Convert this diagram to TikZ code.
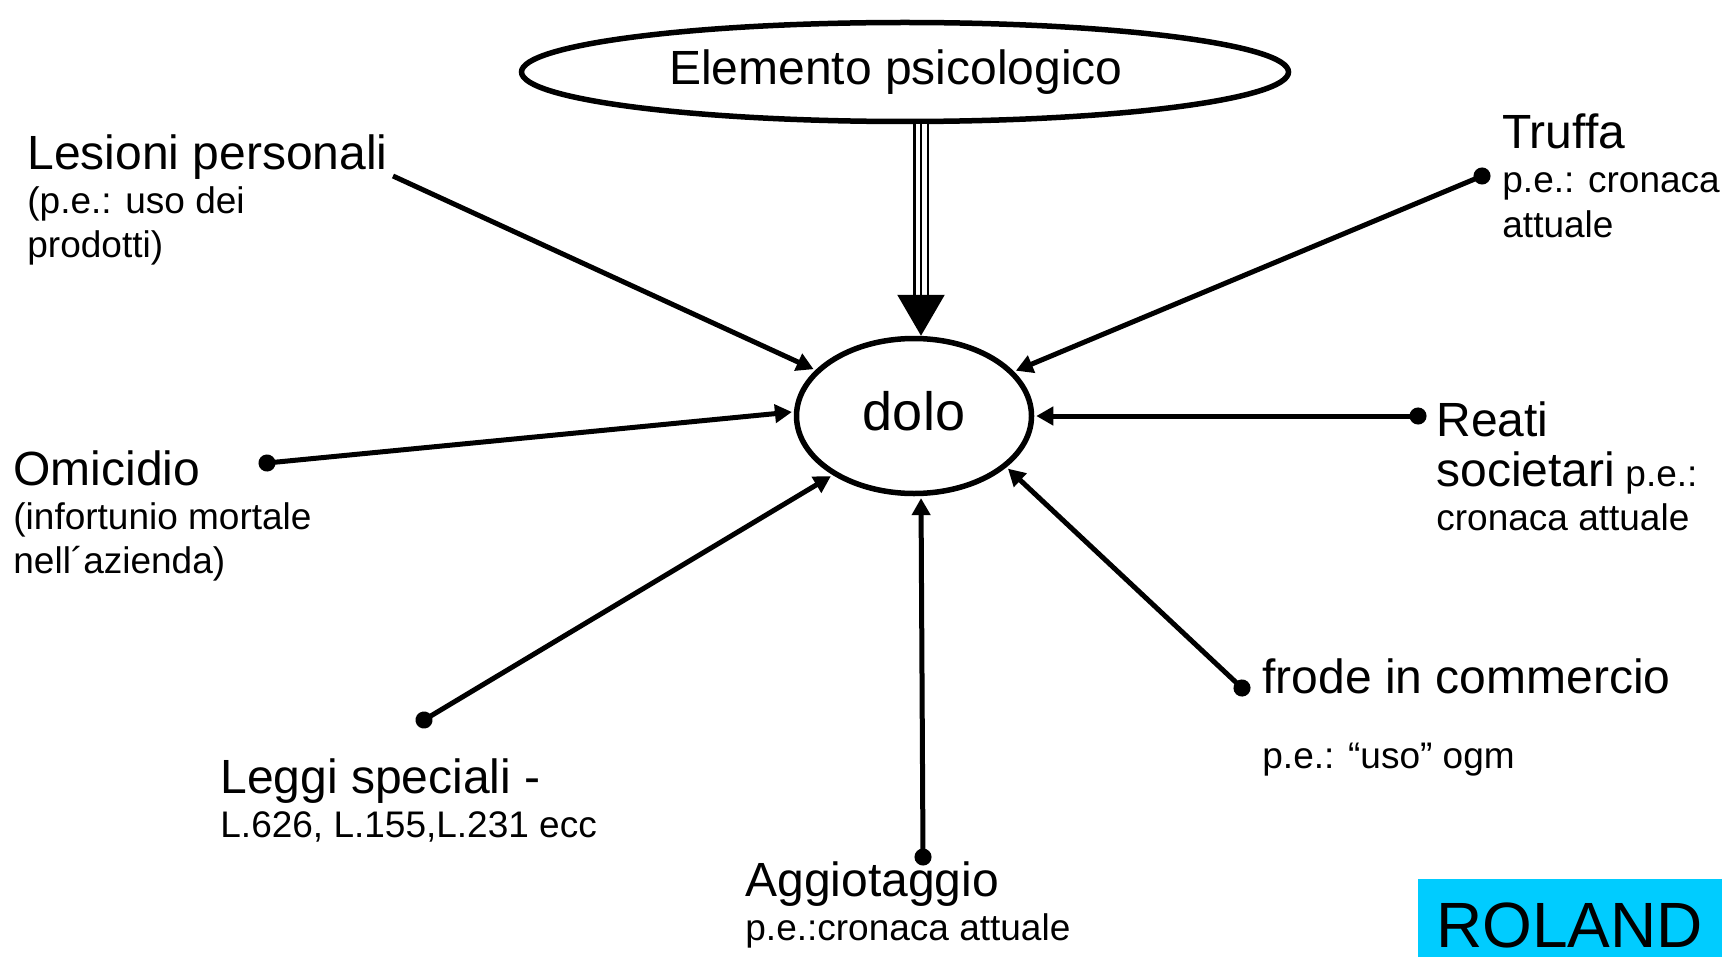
\documentclass[tikz,border=0pt]{standalone}
\usepackage{fontspec}
\setmainfont{Liberation Sans}
\usetikzlibrary{arrows.meta, shapes.geometric}

\definecolor{rolandcyan}{RGB}{0,204,255}
\newcommand\bigsize{\fontsize{24}{28}\selectfont}
\newcommand\smallsize{\fontsize{18.5}{22}\selectfont}

\begin{document}
\begin{tikzpicture}[x=0.5pt, y=-0.5pt,
  oval/.style={draw, ellipse, line width=2.75pt, inner sep=0pt},
  lbl/.style={align=left, anchor=base west, inner sep=0pt, font=\smallsize},
  spoke/.style={line width=2.5pt, shorten >=1pt, -{Triangle[length=8.5pt,width=9pt]}},
  dotspoke/.style={spoke, shorten <=-4.25pt, {Circle[length=8.5pt]}-{Triangle[length=8.5pt,width=9pt]}},
  triple/.style={line width=1.25pt, double, double distance=5.5pt}]
\useasboundingbox (0,0) rectangle (1722,957);
\node[oval, minimum width=383.5pt, minimum height=49.5pt, font=\bigsize] (top) at (905,72) {\hspace*{-9pt}Elemento psicologico};
\node[oval, minimum width=117.5pt, minimum height=77.5pt, text depth=5.5pt, font=\fontsize{27}{30}\selectfont] (dolo) at (914,416) {dolo};
\coordinate (tip) at ([xshift=3.5pt]dolo.north);
\draw[triple, shorten >=20pt] (top.south -| tip) -- (tip);
\draw[line width=1.25pt, -{Triangle[length=20.5pt,width=23.5pt]}] (top.south -| tip) -- (tip);
\node[lbl] (lesioni) at (27,257) {{\bigsize Lesioni personali}\\(p.e.: uso dei\\prodotti)};
\node[lbl] (truffa) at (1502,237) {{\bigsize Truffa}\\p.e.: cronaca\\attuale};
\node[lbl] (omicidio) at (13,573) {{\bigsize Omicidio}\\(infortunio mortale\\nell´azienda)};
\node[lbl] (reati) at (1436,530) {{\bigsize Reati}\\[3pt]{\bigsize societari} p.e.:\\cronaca attuale};
\node[lbl] (leggi) at (220,837) {{\bigsize Leggi speciali -}\\L.626, L.155,L.231 ecc};
\node[lbl] (aggio) at (745,940) {{\bigsize Aggiotaggio}\\p.e.:cronaca attuale};
\node[lbl] (frode) at (1262,768) {{\bigsize frode in commercio}\\[15.5pt]p.e.: “uso” ogm};
\node[fill=rolandcyan, anchor=south east, inner sep=0pt, minimum width=152pt, text height=34.5pt, text depth=4.5pt, font=\fontsize{32}{36}\selectfont] (roland) at (1722,957) {ROLAND};
\coordinate (lesioni-end) at (393,176);
\coordinate (truffa-dot) at (1482,176);
\coordinate (omicidio-dot) at (267,463);
\coordinate (reati-dot) at (1418,416);
\coordinate (leggi-dot) at (424,720);
\coordinate (aggio-dot) at (923,857);
\coordinate (frode-dot) at (1242,688);
\draw[spoke] (lesioni-end) -- (dolo.155);
\draw[dotspoke] (truffa-dot) -- (dolo.24);
\draw[dotspoke] (omicidio-dot) -- (dolo.178);
\draw[dotspoke] (reati-dot) -- (dolo.east);
\draw[dotspoke] (leggi-dot) -- (dolo.216);
\draw[dotspoke] (aggio-dot) -- (dolo.-85);
\draw[dotspoke] (frode-dot) -- (dolo.-29);
\end{tikzpicture}
\end{document}
